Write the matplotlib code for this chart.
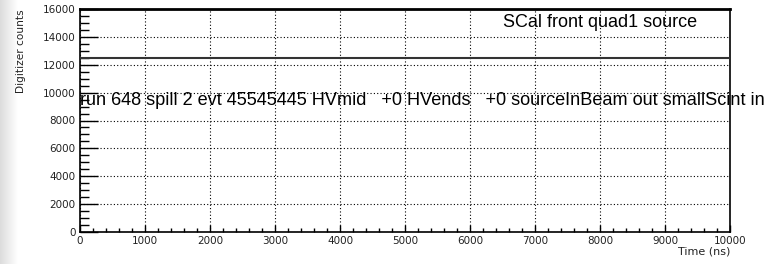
import numpy as np
import matplotlib
matplotlib.use("Agg")
import matplotlib.pyplot as plt
from matplotlib.ticker import MultipleLocator

plt.rcParams['font.family'] = ['DejaVu Sans']

# Data
time_ns = [0, 10000]
counts = [12480, 12480]
title_text = "SCal front quad1 source"
info_text = "run 648 spill 2 evt 45545445 HVmid   +0 HVends   +0 sourceInBeam out smallScint in"
xlabel = "Time (ns)"
ylabel = "Digitizer counts"

W, H = 764, 264
fig = plt.figure(figsize=(W / 100, H / 100), dpi=100)
fig.patch.set_facecolor('white')

# left grey gradient strip (screenshot edge)
gax = fig.add_axes([0, 0, 18 / W, 1])
grad = np.linspace(0.86, 1.0, 64).reshape(1, -1)
gax.imshow(grad, aspect='auto', cmap='gray', vmin=0, vmax=1, extent=[0, 1, 0, 1])
gax.axis('off')

ax = fig.add_axes([80 / W, 1 - 232 / H, 650 / W, 223 / H])
ax.plot(time_ns, counts, color='#333333', lw=1.5, solid_capstyle='butt', zorder=3)

ax.set_xlim(0, 10000)
ax.set_ylim(0, 16000)
ax.xaxis.set_major_locator(MultipleLocator(1000))
ax.xaxis.set_minor_locator(MultipleLocator(200))
ax.yaxis.set_major_locator(MultipleLocator(2000))
ax.yaxis.set_minor_locator(MultipleLocator(500))

ax.grid(True, which='major', color='black', linestyle=(0, (1, 2)), linewidth=0.8)
ax.set_axisbelow(True)

ax.tick_params(axis='x', which='major', direction='in', length=5, width=1, labelsize=7.5, pad=3)
ax.tick_params(axis='x', which='minor', direction='in', length=3, width=1)
ax.tick_params(axis='y', which='major', direction='in', length=13, width=1, labelsize=7.5, pad=3)
ax.tick_params(axis='y', which='minor', direction='in', length=6.5, width=1)
for lab in ax.get_xticklabels() + ax.get_yticklabels():
    lab.set_color('#222222')

for s in ['left', 'bottom', 'right']:
    ax.spines[s].set_linewidth(1.2)
ax.spines['top'].set_linewidth(2.0)

ax.text(1.0, -15 / 223, xlabel, transform=ax.transAxes, ha='right', va='top', fontsize=8, color='#222222')
fig.text(21.5 / W, 1 - 9 / H, ylabel, rotation=90, ha='center', va='top', fontsize=7.6, color='#222222')

big_font = ['Liberation Sans', 'DejaVu Sans']
ax.text((697 - 80) / 650, (232 - 27) / 223, title_text, transform=ax.transAxes,
        ha='right', va='baseline', fontsize=13, color='black', family=big_font)
ax.text(0, (232 - 105) / 223 * 16000, info_text, ha='left', va='baseline', fontsize=13.1,
        color='black', clip_on=False, zorder=4, family=big_font)

fig.savefig('out.png', dpi=100)
